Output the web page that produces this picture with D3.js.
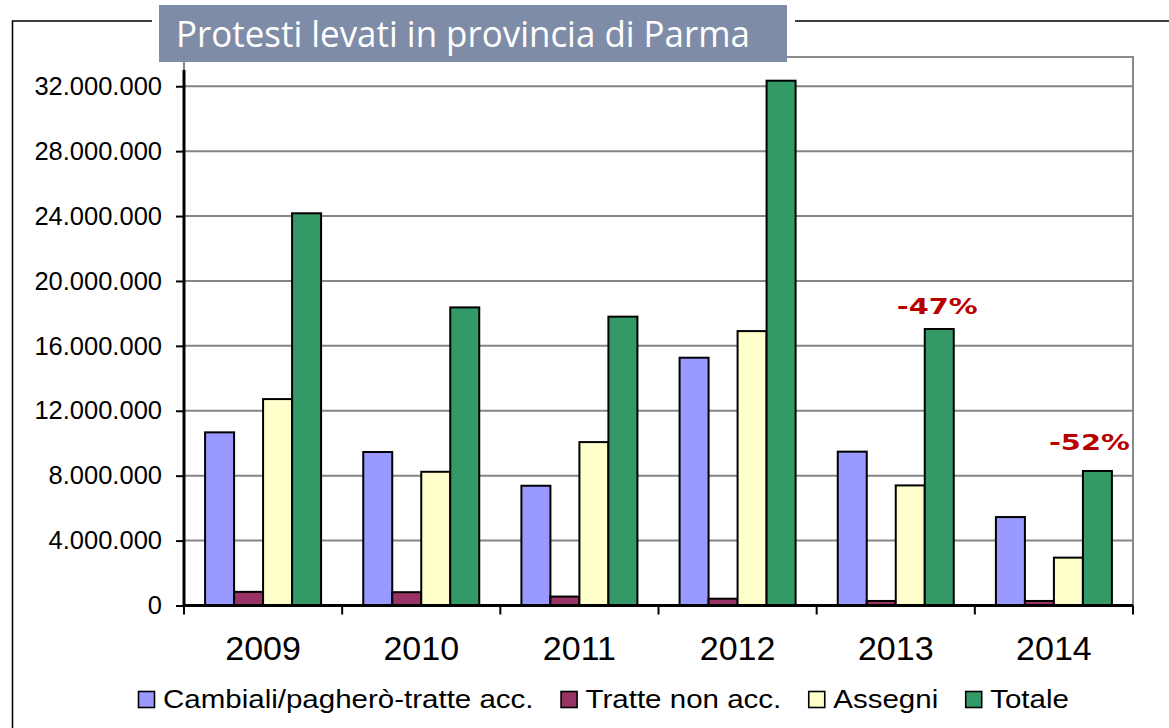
<!DOCTYPE html>
<html>
<head>
<meta charset="utf-8">
<script src="https://cdnjs.cloudflare.com/ajax/libs/d3/7.8.5/d3.min.js"></script>
<style>
  html, body { margin:0; padding:0; background:#fff; }
  svg { display:block; }
</style>
</head>
<body>
<div id="chart"></div>
<script>
// data
var years       = ["2009", "2010", "2011", "2012", "2013", "2014"];
var seriesNames = ["Cambiali/pagherò-tratte acc.", "Tratte non acc.", "Assegni", "Totale"];
var cambiali    = [10670000, 9460000, 7380000, 15270000, 9480000, 5450000];
var tratte      = [840000, 820000, 550000, 420000, 280000, 280000];
var assegni     = [12720000, 8240000, 10070000, 16910000, 7400000, 2950000];
var totale      = [24170000, 18370000, 17800000, 32340000, 17040000, 8290000];
var yTicks      = [0, 4000000, 8000000, 12000000, 16000000, 20000000, 24000000, 28000000, 32000000];
var annotYears  = ["2013", "2014"];
var annotLabels = ["-47%", "-52%"];
var titleText   = "Protesti levati in provincia di Parma";

var colors = ["#9999FF", "#993366", "#FFFFCC", "#339966"];
var allSeries = [cambiali, tratte, assegni, totale];

var W = 1169, H = 728;
var plot = {x1:184, y1:57, x2:1133, y2:605.5};

var svg = d3.select("#chart").append("svg")
  .attr("width", W).attr("height", H)
  .attr("viewBox", "0 0 "+W+" "+H);

var fmt = d3.formatLocale({decimal:",", thousands:".", grouping:[3], currency:["€",""]}).format(",d");

var x0 = d3.scaleBand().domain(years).range([plot.x1, plot.x2]);
var x1 = d3.scaleBand().domain(d3.range(seriesNames.length))
  .range([0, x0.bandwidth()]).paddingInner(0).paddingOuter(0.727);
var y = d3.scaleLinear().domain([0, 33000000]).range([plot.y2, 70]);

// outer frame (open at the title)
svg.append("path")
  .attr("d", "M12.5,"+H+" L12.5,21 L152,21 M795,21 L"+W+",21")
  .attr("fill", "none").attr("stroke", "#000").attr("stroke-width", 1.6);

// plot area border
svg.append("rect")
  .attr("x", plot.x1).attr("y", plot.y1)
  .attr("width", plot.x2 - plot.x1).attr("height", plot.y2 - plot.y1)
  .attr("fill", "none").attr("stroke", "#8a8a8a").attr("stroke-width", 2);

// gridlines
svg.append("g").selectAll("line").data(yTicks.filter(function(d){return d>0;}))
  .enter().append("line")
  .attr("x1", plot.x1).attr("x2", plot.x2)
  .attr("y1", function(d){return y(d);}).attr("y2", function(d){return y(d);})
  .attr("stroke", "#858585").attr("stroke-width", 2);

// bars
var groups = svg.append("g").selectAll("g").data(years).enter().append("g")
  .attr("transform", function(d){return "translate("+x0(d)+",0)";});
groups.selectAll("rect")
  .data(function(d, i){ return allSeries.map(function(s, k){ return {k:k, v:s[i]}; }); })
  .enter().append("rect")
  .attr("x", function(d){return x1(d.k);})
  .attr("width", x1.bandwidth())
  .attr("y", function(d){return y(d.v);})
  .attr("height", function(d){return y(0) - y(d.v);})
  .attr("fill", function(d){return colors[d.k];})
  .attr("stroke", "#000").attr("stroke-width", 2);

// y axis
var yAxis = d3.axisLeft(y).tickValues(yTicks).tickSize(8).tickPadding(14).tickFormat(fmt);
var gy = svg.append("g").attr("transform", "translate("+plot.x1+",0)").call(yAxis);
gy.select(".domain").attr("d", "M0,70V"+plot.y2).attr("stroke", "#000").attr("stroke-width", 3);
gy.selectAll(".tick line").attr("stroke", "#000").attr("stroke-width", 2);
gy.selectAll(".tick text")
  .attr("font-family", "'Liberation Sans', Arial, sans-serif")
  .attr("font-size", "25.5px").attr("fill", "#000");

// x axis: ticks between categories, labels centred
var gx = svg.append("g").attr("transform", "translate(0,"+plot.y2+")");
gx.append("line").attr("x1", plot.x1).attr("x2", plot.x2)
  .attr("stroke", "#000").attr("stroke-width", 3);
var bounds = years.map(function(d){return x0(d);}).concat([plot.x2]);
gx.selectAll(".tk").data(bounds).enter().append("line")
  .attr("x1", function(d){return d;}).attr("x2", function(d){return d;})
  .attr("y1", 0).attr("y2", 9)
  .attr("stroke", "#000").attr("stroke-width", 2);
gx.selectAll("text").data(years).enter().append("text")
  .attr("x", function(d){return x0(d) + x0.bandwidth()/2;})
  .attr("y", 54)
  .attr("text-anchor", "middle")
  .attr("font-family", "'Liberation Sans', Arial, sans-serif")
  .attr("font-size", "34px").attr("fill", "#000")
  .text(function(d){return d;});

// percentage annotations over the Totale bars
var annOffsets = [{dx:-2, dy:-15}, {dx:-8, dy:-21}];
annotYears.forEach(function(yr, i){
  var idx = years.indexOf(yr);
  var cx = x0(yr) + x1(3) + x1.bandwidth()/2 + annOffsets[i].dx;
  svg.append("text")
    .attr("x", cx).attr("y", y(totale[idx]) + annOffsets[i].dy)
    .attr("text-anchor", "middle")
    .attr("font-family", "'DejaVu Sans', Verdana, sans-serif")
    .attr("font-weight", "bold").attr("font-size", "21px")
    .attr("fill", "#B80000")
    .attr("textLength", 81).attr("lengthAdjust", "spacingAndGlyphs")
    .text(annotLabels[i]);
});

// legend
var legend = svg.append("g").attr("transform", "translate(138,691)");
var lx = 0;
seriesNames.forEach(function(name, k){
  var item = legend.append("g").attr("transform", "translate("+lx+",0)");
  item.append("rect").attr("x", 0.5).attr("y", 0.5).attr("width", 16).attr("height", 16)
    .attr("fill", colors[k]).attr("stroke", "#000").attr("stroke-width", 1.6);
  var t = item.append("text").attr("x", 25).attr("y", 17)
    .attr("font-family", "'Liberation Sans', Arial, sans-serif")
    .attr("font-size", "25px").attr("fill", "#000")
    .text(name);
  var w = t.node().getComputedTextLength() * 1.18;
  t.attr("textLength", w).attr("lengthAdjust", "spacingAndGlyphs");
  lx += 25 + w + 27;
});

// title box
svg.append("rect").attr("x", 159).attr("y", 5).attr("width", 628).attr("height", 57)
  .attr("fill", "#7F8CA8");
svg.append("text").attr("x", 176).attr("y", 47)
  .attr("font-family", "'Open Sans', 'Noto Sans', sans-serif")
  .attr("font-size", "37px").attr("fill", "#fff")
  .attr("textLength", 574).attr("lengthAdjust", "spacingAndGlyphs")
  .text(titleText);
</script>
</body>
</html>
